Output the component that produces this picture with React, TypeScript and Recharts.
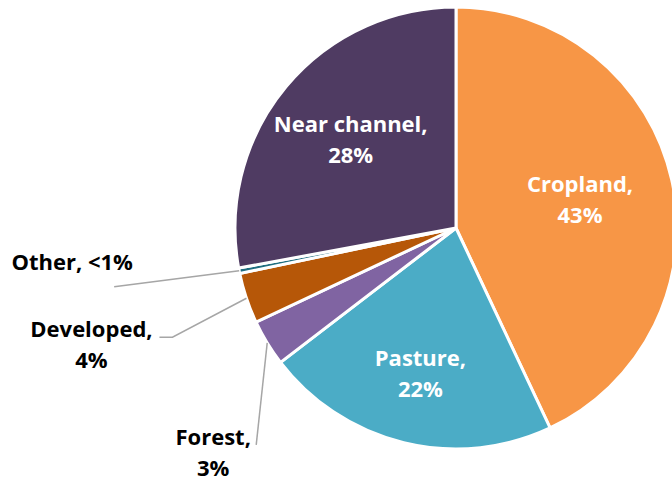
import React from "react";
import { PieChart, Pie, Cell } from "recharts";

const categories = ["Cropland", "Pasture", "Forest", "Developed", "Other", "Near channel"];
const shares = [43.0, 21.6, 3.4, 3.7, 0.4, 27.9];
const labelTexts = ["43%", "22%", "3%", "4%", "<1%", "28%"];
const colors = ["#F79646", "#4BACC6", "#8064A2", "#B65708", "#1F6E80", "#4F3B62"];

const data = categories.map((name, i) => ({ name, value: shares[i], pct: labelTexts[i] }));

const RAD = Math.PI / 180;
const FONT = "'Open Sans', Lato, sans-serif";
const FS = 22;
const LH = 31;
const LINE = "#A6A6A6";

// inside label radius factors
const insideFactor: Record<number, number> = { 0: 0.575, 1: 0.68, 5: 0.62 };

const renderLabel = (props: any) => {
  const { cx, cy, midAngle, outerRadius, index } = props;
  const cos = Math.cos(-midAngle * RAD);
  const sin = Math.sin(-midAngle * RAD);
  const name = categories[index];
  const pct = labelTexts[index];
  if (insideFactor[index] !== undefined) {
    const r = outerRadius * insideFactor[index];
    const x = cx + r * cos;
    const y = cy + r * sin;
    return (
      <g key={`l${index}`}>
        <text x={x} y={y - 8} textAnchor="middle" fill="#fff" fontFamily={FONT} fontWeight={700} fontSize={FS}>
          {name},
        </text>
        <text x={x} y={y - 8 + LH} textAnchor="middle" fill="#fff" fontFamily={FONT} fontWeight={700} fontSize={FS}>
          {pct}
        </text>
      </g>
    );
  }
  const ex = cx + outerRadius * cos;
  const ey = cy + outerRadius * sin;
  if (index === 4) {
    const lx = ex - 125;
    const ly = ey + 16;
    return (
      <g key={`l${index}`}>
        <polyline points={`${ex},${ey} ${lx},${ly}`} fill="none" stroke={LINE} strokeWidth={1.5} />
        <text x={lx - 42} y={ly - 17} textAnchor="middle" fill="#000" fontFamily={FONT} fontWeight={700} fontSize={FS}>
          {name}, {pct}
        </text>
      </g>
    );
  }
  if (index === 3) {
    return (
      <g key={`l${index}`}>
        <polyline
          points={`${ex},${ey} ${ex - 74},${ey + 39} ${ex - 87},${ey + 39}`}
          fill="none"
          stroke={LINE}
          strokeWidth={1.5}
        />
        <text x={ex - 155} y={ey + 39} textAnchor="middle" fill="#000" fontFamily={FONT} fontWeight={700} fontSize={FS}>
          {name},
        </text>
        <text x={ex - 155} y={ey + 39 + LH} textAnchor="middle" fill="#000" fontFamily={FONT} fontWeight={700} fontSize={FS}>
          {pct}
        </text>
      </g>
    );
  }
  // Forest
  return (
    <g key={`l${index}`}>
      <polyline points={`${ex},${ey} ${ex - 11},${ey + 102}`} fill="none" stroke={LINE} strokeWidth={1.5} />
      <text x={ex - 54} y={ey + 102} textAnchor="middle" fill="#000" fontFamily={FONT} fontWeight={700} fontSize={FS}>
        {name},
      </text>
      <text x={ex - 54} y={ey + 102 + LH} textAnchor="middle" fill="#000" fontFamily={FONT} fontWeight={700} fontSize={FS}>
        {pct}
      </text>
    </g>
  );
};

export default function App() {
  return (
    <div style={{ position: "absolute", left: 0, top: 0, width: 672, height: 486, background: "#fff" }}>
      <PieChart width={672} height={486} margin={{ top: 0, right: 0, bottom: 0, left: 0 }}>
        <Pie
          data={data}
          dataKey="value"
          nameKey="name"
          cx={456}
          cy={228}
          outerRadius={221}
          startAngle={90}
          endAngle={-270}
          stroke="#fff"
          strokeWidth={3}
          label={renderLabel}
          labelLine={false}
          isAnimationActive={false}
        >
          {data.map((d, i) => (
            <Cell key={d.name} fill={colors[i]} />
          ))}
        </Pie>
      </PieChart>
    </div>
  );
}
